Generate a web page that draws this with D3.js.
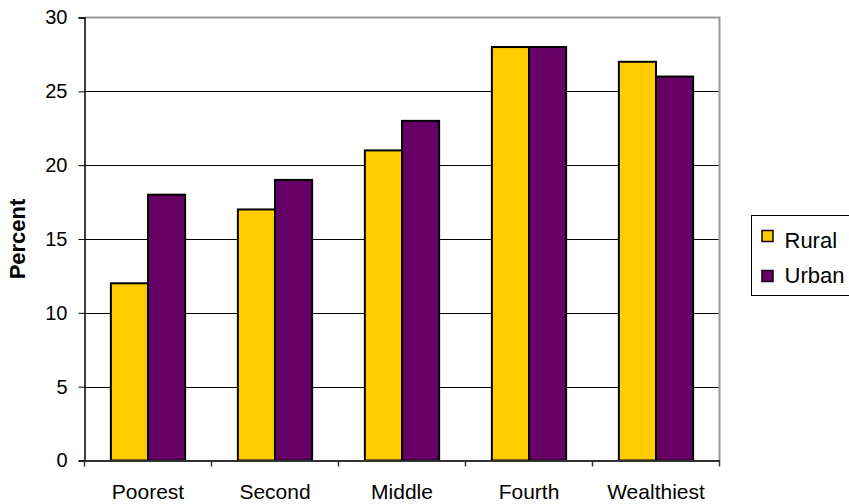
<!DOCTYPE html>
<html>
<head>
<meta charset="utf-8">
<script src="https://cdn.jsdelivr.net/npm/d3@7"></script>
<style>
  body { margin: 0; background: #fff; }
  text { font-family: "Liberation Sans", Arial, sans-serif; fill: #000; }
</style>
</head>
<body>
<svg id="chart" width="849" height="504"></svg>
<script>
const categories = ["Poorest", "Second", "Middle", "Fourth", "Wealthiest"]
const seriesNames = ["Rural", "Urban"]
const rural = [12, 17, 21, 28, 27]
const urban = [18, 19, 23, 28, 26]
const yTicks = [0, 5, 10, 15, 20, 25, 30]
const colors = ["#FFCC00", "#660066"]

const svg = d3.select("#chart")
const plotLeft = 84.5, plotRight = 719.5, plotTop = 17.5, plotBottom = 460.5
const fontSize = 20

const x = d3.scaleBand().domain(categories).range([plotLeft, plotRight]).paddingInner(0).paddingOuter(0)
const xs = d3.scaleBand().domain(seriesNames).range([0, x.bandwidth()]).paddingInner(0).paddingOuter(0.71)
const y = d3.scaleLinear().domain([0, 30]).range([plotBottom, plotTop])

// plot border (top and right in gray)
svg.append("path")
  .attr("d", "M" + plotLeft + "," + plotTop + "H" + plotRight + "V" + plotBottom)
  .attr("fill", "none").attr("stroke", "#999").attr("stroke-width", 2)

// gridlines
svg.append("g").selectAll("line")
  .data(yTicks.filter(function(d) { return d > 0 && d < 30 }))
  .enter().append("line")
  .attr("x1", plotLeft).attr("x2", plotRight - 1)
  .attr("y1", function(d) { return Math.round(y(d)) + 0.5 })
  .attr("y2", function(d) { return Math.round(y(d)) + 0.5 })
  .attr("stroke", "#000").attr("stroke-width", 1)

// bars
const data = categories.map(function(c, i) { return { cat: c, values: [rural[i], urban[i]] } })
const groups = svg.append("g").selectAll("g")
  .data(data).enter().append("g")
  .attr("transform", function(d) { return "translate(" + x(d.cat) + ",0)" })
groups.selectAll("rect")
  .data(function(d) { return d.values.map(function(v, j) { return { name: seriesNames[j], v: v, j: j } }) })
  .enter().append("rect")
  .attr("x", function(d) { return xs(d.name) })
  .attr("width", xs.bandwidth())
  .attr("y", function(d) { return y(d.v) })
  .attr("height", function(d) { return plotBottom - y(d.v) })
  .attr("fill", function(d) { return colors[d.j] })
  .attr("stroke", "#000").attr("stroke-width", 2)

// y axis
const yAxis = svg.append("g")
  .attr("transform", "translate(" + plotLeft + ",0)")
  .call(d3.axisLeft(y).tickValues(yTicks).tickSize(6).tickPadding(11))
yAxis.select(".domain").attr("stroke", "#000").attr("stroke-width", 1.5)
yAxis.selectAll(".tick line").attr("stroke", "#000")
yAxis.selectAll("text").attr("font-size", fontSize).style("font-family", "Liberation Sans, Arial, sans-serif")

// x axis
const xAxis = svg.append("g")
  .attr("transform", "translate(0," + plotBottom + ")")
  .call(d3.axisBottom(x).tickSize(0).tickPadding(24))
xAxis.select(".domain").attr("stroke", "#333").attr("stroke-width", 2)
xAxis.selectAll("text").attr("font-size", 21).style("font-family", "Liberation Sans, Arial, sans-serif")
svg.append("g").selectAll("line")
  .data(d3.range(categories.length + 1))
  .enter().append("line")
  .attr("x1", function(i) { return plotLeft + i * x.bandwidth() })
  .attr("x2", function(i) { return plotLeft + i * x.bandwidth() })
  .attr("y1", plotBottom).attr("y2", plotBottom + 6)
  .attr("stroke", "#333").attr("stroke-width", 1.5)

// y title
svg.append("text")
  .attr("transform", "translate(25," + (plotTop + plotBottom) / 2 + ") rotate(-90)")
  .attr("text-anchor", "middle")
  .attr("font-size", 22).attr("font-weight", "bold")
  .text("Percent")

// legend
const legend = svg.append("g").attr("transform", "translate(751.5,215.5)")
legend.append("rect").attr("width", 110).attr("height", 80)
  .attr("fill", "#fff").attr("stroke", "#000").attr("stroke-width", 1)
seriesNames.forEach(function(n, i) {
  legend.append("rect")
    .attr("x", 10.5).attr("y", 15 + i * 40).attr("width", 11).attr("height", 11)
    .attr("fill", colors[i]).attr("stroke", "#000").attr("stroke-width", 1.5)
  legend.append("text")
    .attr("x", 33).attr("y", 32.5 + i * 35)
    .attr("font-size", 22)
    .text(n)
})
</script>
</body>
</html>
